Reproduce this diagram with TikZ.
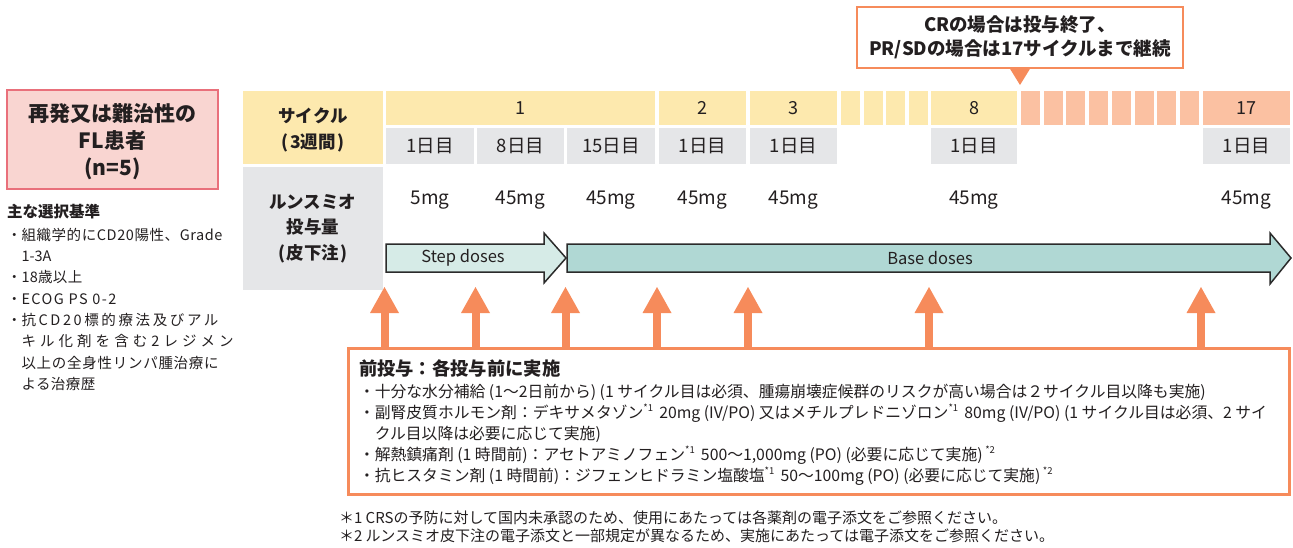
\documentclass[tikz,border=0pt]{standalone}
\usepackage{fontspec}
\setmainfont{Noto Sans CJK JP}
\usetikzlibrary{arrows.meta}
\definecolor{ink}{HTML}{231F20}
\definecolor{yel}{HTML}{FDE9AE}
\definecolor{orc}{HTML}{FBC1A2}
\definecolor{gry}{HTML}{E5E6E8}
\definecolor{orl}{HTML}{F68B5B}
\definecolor{pinkf}{HTML}{F9D5D1}
\definecolor{pinkd}{HTML}{E9707B}
\definecolor{stepc}{HTML}{D6EBE7}
\definecolor{basec}{HTML}{B0D8D4}
\definecolor{arrd}{HTML}{2B2B2B}
\newcommand\fs[2]{\fontsize{#1}{#2}\selectfont}
\newcommand\sx[1]{\raisebox{0.45em}{\fontsize{9.5}{9.5}\selectfont #1}}
\newcommand\ls[2]{{\addfontfeature{LetterSpace=#1}#2}}
\tikzset{
  every node/.style={text=ink, inner sep=0pt, outer sep=0pt},
  ycell/.style={fill=yel, anchor=north west, minimum height=34pt, font=\fs{18}{20}},
  ocell/.style={fill=orc, anchor=north west, minimum height=34pt, font=\fs{18}{20}},
  dcell/.style={fill=gry, anchor=north west, minimum height=36pt, font=\fs{18.5}{20}},
  dose/.style={font=\fs{19}{20}},
  darr/.style={draw=arrd, line width=1.5pt, line join=miter},
  prearrow/.style={draw=orl, line width=8pt, -{Triangle[width=29pt,length=26pt,line width=0pt]}},
  txt/.style={anchor=base west, font=\fs{15.8}{21}},
  foot/.style={anchor=base west, font=\fs{15}{21}},
  crit/.style={anchor=base west, font=\fs{14.5}{20}},
  bul/.style={anchor=base west, font=\fs{14.5}{20}},
}
\begin{document}
\begin{tikzpicture}[x=1pt,y=-1pt]
\useasboundingbox (0,0) rectangle (1293,547);

% left patient box
\node[draw=pinkd, fill=pinkf, line width=1.2pt, minimum width=211pt, minimum height=99pt, anchor=north west] (pt) at (7,90) {};
\node[align=center, font=\bfseries\fs{21}{27}] (ptt) at (112.5,142) {再発又は難治性の\\FL患者\\(n=5)};
\node[anchor=base west, font=\bfseries\fs{15.5}{20}] (crh) at (7,217.7) {主な選択基準};
\node[bul] (b1) at (7,240.2) {・};
\node[bul] (b3) at (7,282.8) {・};
\node[bul] (b4) at (7,304.1) {・};
\node[bul] (b5) at (7,325.4) {・};
\node[crit] (cr1) at (21.5,240.2) {\ls{4}{組織学的にCD20陽性、Grade}};
\node[crit] (cr2) at (21.5,261.5) {1-3A};
\node[crit] (cr3) at (21.5,282.8) {\ls{2}{18歳以上}};
\node[crit] (cr4) at (21.5,304.1) {\ls{10}{ECOG PS 0-2}};
\node[crit] (cr5) at (21.5,325.4) {\ls{18}{抗CD20標的療法及びアル}};
\node[crit] (cr6) at (21.5,346.7) {\ls{28}{キル化剤を含む2レジメン}};
\node[crit] (cr7) at (21.5,368.0) {\ls{5}{以上の全身性リンパ腫治療に}};
\node[crit] (cr8) at (21.5,389.3) {\ls{3}{よる治療歴}};

% header boxes
\node[fill=yel, anchor=north west, minimum width=140pt, minimum height=73pt] (hc) at (243,91) {};
\node[align=center, font=\bfseries\fs{17.5}{26}] (hct) at (313,130) {サイクル\\(\kern1.5pt 3週間\kern1.5pt)};
\node[fill=gry, anchor=north west, minimum width=140pt, minimum height=123pt, align=center, font=\bfseries\fs{17.5}{25.5}] (hd) at (243,167) {ルンスミオ\\投与量\\(\kern1.5pt 皮下注\kern1.5pt)};

% cycle row
\node[ycell, minimum width=269pt] (c1) at (386,91) {1};
\node[ycell, minimum width=87pt] (c2) at (659,91) {2};
\node[ycell, minimum width=87pt] (c3) at (750,91) {3};
\node[ycell, minimum width=19pt] (c4) at (841,91) {};
\node[ycell, minimum width=19pt] (c5) at (863.5,91) {};
\node[ycell, minimum width=19pt] (c6) at (886,91) {};
\node[ycell, minimum width=19pt] (c7) at (908.5,91) {};
\node[ycell, minimum width=86pt] (c8) at (931,91) {8};
\node[ocell, minimum width=19pt] (c9) at (1021,91) {};
\node[ocell, minimum width=19pt] (c10) at (1043.7,91) {};
\node[ocell, minimum width=19pt] (c11) at (1066.4,91) {};
\node[ocell, minimum width=19pt] (c12) at (1089.1,91) {};
\node[ocell, minimum width=19pt] (c13) at (1111.8,91) {};
\node[ocell, minimum width=19pt] (c14) at (1134.5,91) {};
\node[ocell, minimum width=19pt] (c15) at (1157.2,91) {};
\node[ocell, minimum width=19pt] (c16) at (1179.9,91) {};
\node[ocell, minimum width=87pt] (c17) at (1203,91) {17};

% day row
\node[dcell, minimum width=88pt] (d1) at (386,128) {1日目};
\node[dcell, minimum width=87pt] (d2) at (477,128) {8日目};
\node[dcell, minimum width=88pt] (d3) at (567,128) {15日目};
\node[dcell, minimum width=87pt] (d4) at (659,128) {1日目};
\node[dcell, minimum width=87pt] (d5) at (750,128) {1日目};
\node[dcell, minimum width=86pt] (d6) at (931,128) {1日目};
\node[dcell, minimum width=87pt] (d7) at (1203,128) {1日目};

% doses
\node[dose] (m1) at (d1 |- 0,200) {5mg};
\node[dose] (m2) at (d2 |- 0,200) {45mg};
\node[dose] (m3) at (d3 |- 0,200) {45mg};
\node[dose] (m4) at (d4 |- 0,200) {45mg};
\node[dose] (m5) at (d5 |- 0,200) {45mg};
\node[dose] (m6) at (d6 |- 0,200) {45mg};
\node[dose] (m7) at (d7 |- 0,200) {45mg};

% dose-phase arrows
\draw[darr, fill=stepc] (386,244) -- (544,244) -- (544,233) -- (566,258) -- (544,283) -- (544,272) -- (386,272) -- cycle;
\draw[darr, fill=basec] (567,244) -- (1270,244) -- (1270,233) -- (1291,258) -- (1270,284) -- (1270,272) -- (567,272) -- cycle;
\node[font=\fs{16.5}{20}] (stepl) at (463,258) {Step doses};
\node[font=\fs{16.5}{20}] (basel) at (930,258) {Base doses};

% callout
\node[draw=orl, fill=white, line width=1.2pt, minimum width=326pt, minimum height=61pt, anchor=north west, align=center, font=\bfseries\fs{18.5}{24}] (co) at (857,7) {CRの場合は投与終了、\\PR/SDの場合は17サイクルまで継続};
\coordinate (cotip) at (1020,85);
\fill[orl] (1009.5,68) -- (1030.5,68) -- (cotip) -- cycle;

% premedication box
\node[draw=orl, line width=3pt, minimum width=940.5pt, minimum height=146pt, anchor=north west] (pre) at (348.5,348.5) {};
\foreach \n/\x in {a1/384.5, a2/475.5, a3/565.5, a4/657, a5/748, a6/929, a7/1201}{
  \coordinate (\n) at (\x,287);
  \draw[prearrow] (pre.north -| \n) -- (\n);
}
\node[anchor=base west, font=\bfseries\fs{18.3}{21}] (pret) at (359,375.5) {前投与：各投与前に実施};
\node[txt] (p1) at (359,397.5) {・十分な水分補給 (1〜2日前から) (1 サイクル目は必須、腫瘍崩壊症候群のリスクが高い場合は２サイクル目以降も実施)};
\node[txt] (p2) at (359,418.5) {・副腎皮質ホルモン剤：デキサメタゾン\sx{*1}\, 20mg (IV/PO) 又はメチルプレドニゾロン\sx{*1}\, 80mg (IV/PO) (1 サイクル目は必須、2 サイ};
\node[txt] (p3) at (374.8,439.5) {クル目以降は必要に応じて実施)};
\node[txt] (p4) at (359,460.5) {・解熱鎮痛剤 (1 時間前)：アセトアミノフェン\sx{*1}\, 500〜1,000mg (PO) (必要に応じて実施)\,\sx{*2}};
\node[txt] (p5) at (359,481.5) {・抗ヒスタミン剤 (1 時間前)：ジフェンヒドラミン塩酸塩\sx{*1}\, 50〜100mg (PO) (必要に応じて実施)\,\sx{*2}};

% footnotes
\node[foot] (f1) at (339,523.5) {＊1 CRSの予防に対して国内未承認のため、使用にあたっては各薬剤の電子添文をご参照ください。};
\node[foot] (f2) at (339,541.5) {＊2 ルンスミオ皮下注の電子添文と一部規定が異なるため、実施にあたっては電子添文をご参照ください。};
\end{tikzpicture}
\end{document}
